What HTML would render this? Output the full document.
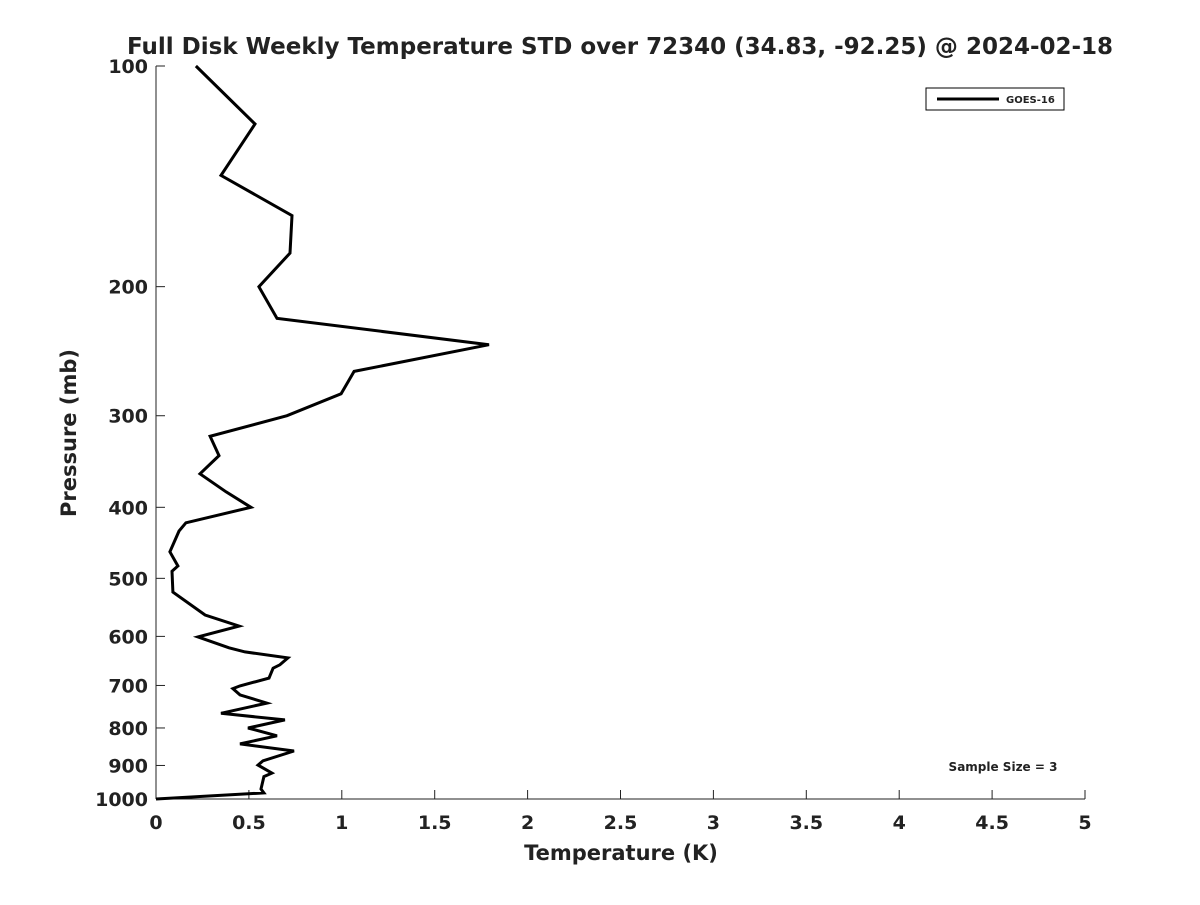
<!DOCTYPE html>
<html><head><meta charset="utf-8"><style>
body{margin:0;background:#fff}
svg text{font-family:"DejaVu Sans","Liberation Sans",sans-serif;font-weight:bold;fill:#222}
</style></head><body>
<svg id="chart" width="1200" height="900">
<rect width="1200" height="900" fill="#fff"/>
<text x="620" y="54" font-size="23" text-anchor="middle">Full Disk Weekly Temperature STD over 72340 (34.83, -92.25) @ 2024-02-18</text>
<g id="axes"></g>
<path id="line" fill="none" stroke="#000" stroke-width="3" stroke-linejoin="miter"/>
<g>
<rect x="926" y="88" width="138" height="22" fill="#fff" stroke="#000" stroke-width="1"/>
<line x1="937" y1="99" x2="999" y2="99" stroke="#000" stroke-width="3"/>
<text x="1006" y="103" font-size="10">GOES-16</text>
</g>
<text x="1003" y="771" font-size="12" text-anchor="middle">Sample Size = 3</text>
<text x="621" y="860" font-size="21" text-anchor="middle">Temperature (K)</text>
<text transform="translate(76,433) rotate(-90)" font-size="21" text-anchor="middle">Pressure (mb)</text>
</svg>
<script>
const xTicks=[0,0.5,1,1.5,2,2.5,3,3.5,4,4.5,5];
const xTickLabels=["0","0.5","1","1.5","2","2.5","3","3.5","4","4.5","5"];
const yTicks=[100,200,300,400,500,600,700,800,900,1000];
const pressure=[100,120,141,160,180,200,221,240,261,280,300,320,340,360,381,400,420,431,460,481,489,522,561,581,601,622,630,642,656,663,684,701,707,721,740,764,780,800,820,841,860,887,899,922,932,969,981,1000];
const tempStd=[0.215,0.533,0.35,0.732,0.721,0.554,0.651,1.792,1.066,0.996,0.705,0.291,0.339,0.237,0.377,0.511,0.161,0.124,0.075,0.118,0.086,0.091,0.264,0.447,0.226,0.393,0.479,0.71,0.667,0.63,0.608,0.452,0.414,0.452,0.597,0.35,0.694,0.495,0.651,0.452,0.743,0.576,0.549,0.624,0.581,0.565,0.581,0];
const L=156,R=1085,T=66,B=799;
const xs=v=>L+(v-0)/5*(R-L);
const ys=p=>T+(Math.log10(p)-2)*(B-T);
const NS="http://www.w3.org/2000/svg";
const ax=document.getElementById('axes');
function mk(t,a){const e=document.createElementNS(NS,t);for(const k in a)e.setAttribute(k,a[k]);ax.appendChild(e);return e;}
let e=mk('line',{x1:L,y1:T,x2:L,y2:B,stroke:'#222','stroke-width':1});


e=mk('line',{x1:L,y1:B,x2:R,y2:B,stroke:'#222','stroke-width':1});


xTicks.forEach((v,i)=>{
 const x=xs(v);
 let t=mk('line',{x1:x,y1:B,x2:x,y2:B-9,stroke:'#222'});
 
 
 let tx=mk('text',{x:x,y:B+30,'font-size':19,'text-anchor':'middle'});
 tx.textContent=xTickLabels[i];
 
 
});
yTicks.forEach(p=>{
 const y=ys(p);
 let t=mk('line',{x1:L,y1:y,x2:L+9,y2:y,stroke:'#222'});
 
 
 let tx=mk('text',{x:L-8,y:y+7,'font-size':19,'text-anchor':'end'});
 tx.textContent=String(p);
 
 
});
document.getElementById('line').setAttribute('d',pressure.map((p,i)=>(i?'L':'M')+xs(tempStd[i]).toFixed(1)+','+ys(p).toFixed(1)).join(''));
</script>
</body></html>
